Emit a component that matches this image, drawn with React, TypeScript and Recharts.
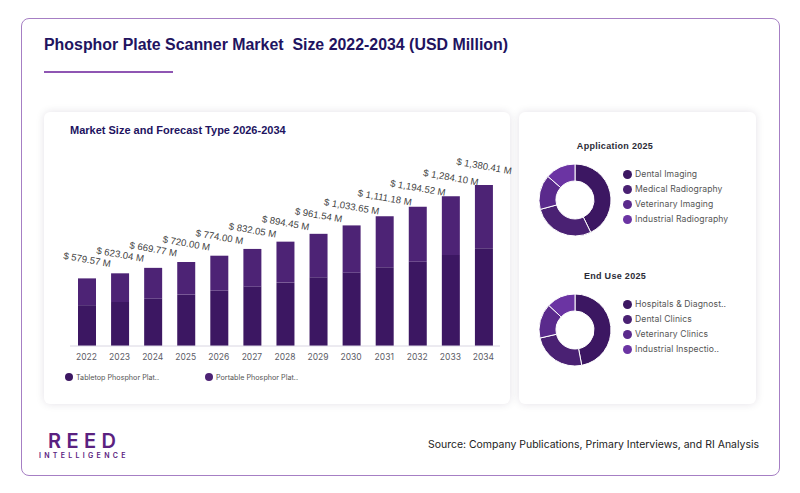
import { BarChart, Bar, XAxis, YAxis, LabelList, PieChart, Pie, Cell } from "recharts"

const years = ["2022", "2023", "2024", "2025", "2026", "2027", "2028", "2029", "2030", "2031", "2032", "2033", "2034"]
const totals = [579.57, 623.04, 669.77, 720.0, 774.0, 832.05, 894.45, 961.54, 1033.65, 1111.18, 1194.52, 1284.1, 1380.41]
const tabletop = [350, 377, 405, 440, 474, 509, 543, 589, 629, 675, 723, 780, 838]

const barData = years.map((year, i) => ({
  year,
  total: totals[i],
  tabletop: tabletop[i],
  portable: totals[i] - tabletop[i],
}))

const barLegend = ["Tabletop Phosphor Plat..", "Portable Phosphor Plat.."]
const barColors = ["#3c1762", "#4d2375"]

const applicationNames = ["Dental Imaging", "Medical Radiography", "Veterinary Imaging", "Industrial Radiography"]
const applicationValues = [42.8, 28, 15.6, 13.6]
const endUseNames = ["Hospitals & Diagnost..", "Dental Clinics", "Veterinary Clinics", "Industrial Inspectio.."]
const endUseValues = [47, 24.4, 15.6, 13]
const pieColors = ["#3c1762", "#4a2173", "#5a2a8c", "#6b34a3"]

const sans = "'Liberation Sans', Arial, sans-serif"
const inter = "Inter, sans-serif"

const money = (v: number) =>
  "$ " + v.toLocaleString("en-US", { minimumFractionDigits: 2, maximumFractionDigits: 2 }) + " M"

function TotalLabel(props: any) {
  const { x, y, width, index } = props
  const cx = x + width / 2
  const cy = y - 18
  return (
    <text
      x={cx}
      y={cy}
      textAnchor="middle"
      dominantBaseline="middle"
      transform={`rotate(10 ${cx} ${cy})`}
      fontFamily={sans}
      fontSize={9.6}
      fill="#444"
    >
      {money(totals[index])}
    </text>
  )
}

function Donut({ title, names, values, top }: { title: string; names: string[]; values: number[]; top: number }) {
  const data = names.map((name, i) => ({ name, value: values[i] }))
  return (
    <>
      <div
        style={{
          position: "absolute",
          left: 520,
          width: 190,
          top: top,
          textAlign: "center",
          fontFamily: sans,
          fontSize: 9,
          lineHeight: "12px",
          fontWeight: 700,
          letterSpacing: 0.3,
          color: "#2b2b36",
        }}
      >
        {title}
      </div>
      <div style={{ position: "absolute", left: 535, top: top + 20 }}>
        <PieChart width={80} height={80} margin={{ top: 0, right: 0, bottom: 0, left: 0 }}>
          <Pie
            data={data}
            dataKey="value"
            cx={40}
            cy={40}
            innerRadius={19}
            outerRadius={36}
            startAngle={90}
            endAngle={-270}
            stroke="#fff"
            strokeWidth={1}
            isAnimationActive={false}
          >
            {data.map((d, i) => (
              <Cell key={d.name} fill={pieColors[i]} />
            ))}
          </Pie>
        </PieChart>
      </div>
      {names.map((name, i) => (
        <div
          key={name}
          style={{
            position: "absolute",
            left: 623,
            top: top + 28 + i * 15,
            height: 12,
            display: "flex",
            alignItems: "center",
            whiteSpace: "nowrap",
            fontFamily: inter,
            fontSize: 8.6,
            letterSpacing: 0.1,
            color: "#555",
          }}
        >
          <span
            style={{
              width: 9,
              height: 9,
              borderRadius: "50%",
              background: pieColors[i],
              marginRight: 3,
            }}
          />
          {name}
        </div>
      ))}
    </>
  )
}

const card = {
  position: "absolute",
  top: 112,
  height: 292,
  background: "#fff",
  borderRadius: 6,
  boxShadow: "0 0 8px rgba(30,20,60,0.12)",
} as const

export default function App() {
  return (
    <div style={{ position: "absolute", left: 0, top: 0, width: 800, height: 493, background: "#fff", overflow: "hidden" }}>
      <div
        style={{
          position: "absolute",
          left: 21,
          top: 18,
          width: 757,
          height: 456,
          border: "1px solid #a67fc4",
          borderRadius: 8,
        }}
      />
      <div
        style={{
          position: "absolute",
          left: 44,
          top: 35,
          fontFamily: sans,
          fontSize: 15.92,
          lineHeight: "20px",
          fontWeight: 700,
          whiteSpace: "pre",
          color: "#22135f",
        }}
      >
        Phosphor Plate Scanner Market  Size 2022-2034 (USD Million)
      </div>
      <div style={{ position: "absolute", left: 44, top: 71, width: 129, height: 2, background: "#8f56b3" }} />

      <div style={{ ...card, left: 44, width: 466 }} />
      <div style={{ ...card, left: 519, width: 237 }} />

      <div
        style={{
          position: "absolute",
          left: 70,
          top: 124,
          fontFamily: sans,
          fontSize: 11,
          lineHeight: "13px",
          fontWeight: 700,
          color: "#22135f",
        }}
      >
        Market Size and Forecast Type 2026-2034
      </div>

      <div style={{ position: "absolute", left: 44, top: 112 }}>
        <BarChart
          width={496}
          height={292}
          data={barData}
          margin={{ top: 59, right: 40, bottom: 28, left: 26 }}
          barSize={18}
        >
          <XAxis
            dataKey="year"
            height={30}
            interval={0}
            tickLine={false}
            axisLine={{ stroke: "#d9d6e2" }}
            tick={{ fontFamily: inter, fontSize: 8.5, fill: "#5c5c66" }}
          />
          <YAxis hide domain={[0, 1500]} />
          <Bar dataKey="tabletop" stackId="a" fill={barColors[0]} isAnimationActive={false} />
          <Bar dataKey="portable" stackId="a" fill={barColors[1]} isAnimationActive={false}>
            <LabelList dataKey="total" content={TotalLabel} />
          </Bar>
        </BarChart>
      </div>

      {barLegend.map((name, i) => (
        <div
          key={name}
          style={{
            position: "absolute",
            left: 65 + i * 140,
            top: 371,
            height: 12,
            display: "flex",
            alignItems: "center",
            whiteSpace: "nowrap",
            fontFamily: inter,
            fontSize: 7.2,
            color: "#555",
          }}
        >
          <span style={{ width: 8, height: 8, borderRadius: "50%", background: barColors[i], marginRight: 3 }} />
          {name}
        </div>
      ))}

      <Donut title="Application 2025" names={applicationNames} values={applicationValues} top={140} />
      <Donut title="End Use 2025" names={endUseNames} values={endUseValues} top={270} />

      <div
        style={{
          position: "absolute",
          left: 48,
          top: 434,
          fontFamily: inter,
          fontSize: 20,
          lineHeight: "15px",
          fontWeight: 600,
          letterSpacing: 5.4,
          color: "#5a2180",
        }}
      >
        REED
      </div>
      <div
        style={{
          position: "absolute",
          left: 39,
          top: 452,
          fontFamily: inter,
          fontSize: 7,
          lineHeight: "8px",
          fontWeight: 600,
          letterSpacing: 3.3,
          color: "#5a2180",
        }}
      >
        INTELLIGENCE
      </div>
      <div
        style={{
          position: "absolute",
          right: 41,
          top: 438,
          fontFamily: inter,
          fontSize: 10.47,
          lineHeight: "14px",
          color: "#222",
        }}
      >
        Source: Company Publications, Primary Interviews, and RI Analysis
      </div>
    </div>
  )
}
